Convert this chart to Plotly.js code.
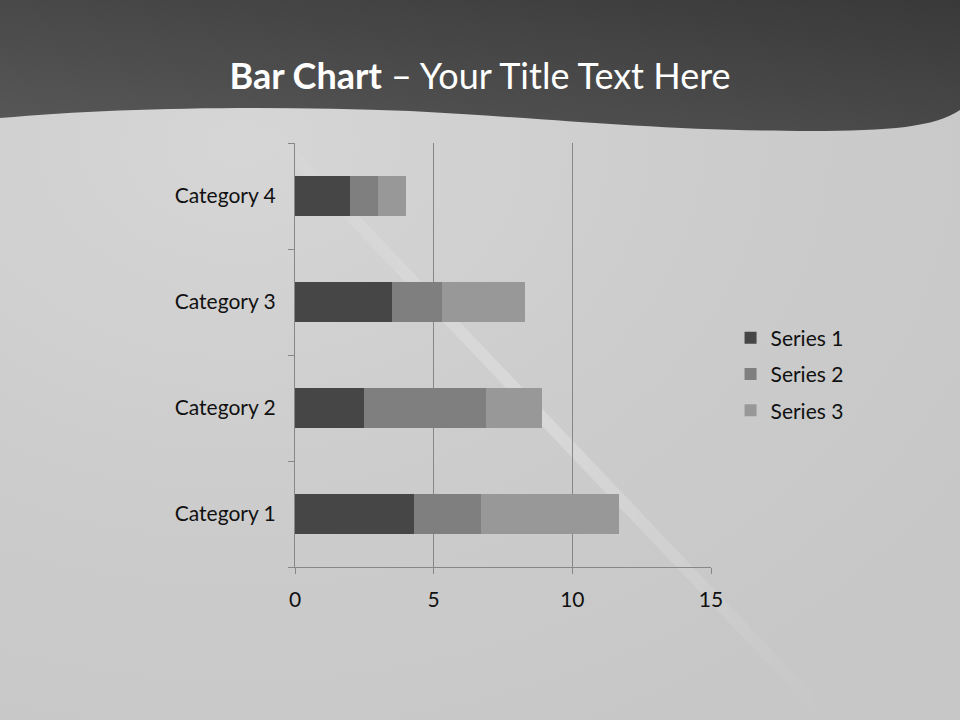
<!DOCTYPE html>
<html>
<head>
<meta charset="utf-8">
<script src="https://cdn.plot.ly/plotly-3.0.1.min.js"></script>
<style>
  html, body { margin: 0; padding: 0; background: #cbcbcb; }
  #wrap { position: relative; width: 960px; height: 720px; overflow: hidden; }
  #bg { position: absolute; left: 0; top: 0; }
  #chart { position: absolute; left: 0; top: 0; width: 960px; height: 720px; }
</style>
</head>
<body>
<div id="wrap">
  <svg id="bg" width="960" height="720" viewBox="0 0 960 720">
    <defs>
      <radialGradient id="bodyGrad" cx="0.25" cy="0.2" r="0.9">
        <stop offset="0" stop-color="#d6d6d6"/>
        <stop offset="0.5" stop-color="#cdcdcd"/>
        <stop offset="1" stop-color="#c7c7c7"/>
      </radialGradient>
      <linearGradient id="headGrad" x1="0" y1="1" x2="1" y2="0">
        <stop offset="0" stop-color="#585858"/>
        <stop offset="1" stop-color="#393939"/>
      </linearGradient>
      <linearGradient id="streak" x1="0" y1="0" x2="1" y2="0">
        <stop offset="0" stop-color="#ffffff" stop-opacity="0"/>
        <stop offset="0.5" stop-color="#ffffff" stop-opacity="0.5"/>
        <stop offset="1" stop-color="#ffffff" stop-opacity="0"/>
      </linearGradient>
    </defs>
    <rect x="0" y="0" width="960" height="720" fill="url(#bodyGrad)"/>
    <line x1="250" y1="110" x2="830" y2="720" stroke="url(#streak)" stroke-width="12" opacity="0.5"/>
    <path d="M0,0 L960,0 L960,110 C935,127 890,131 810,131 C660,131 560,119 410,111 C260,105 110,108 0,118 Z" fill="url(#headGrad)"/>
  </svg>
  <div id="chart"></div>
</div>
<script>
const categories = ["Category 1", "Category 2", "Category 3", "Category 4"];
const seriesNames = ["Series 1", "Series 2", "Series 3"];
const series1 = [4.3, 2.5, 3.5, 2.0];
const series2 = [2.4, 4.4, 1.8, 1.0];
const series3 = [5.0, 2.0, 3.0, 1.0];
const xTickVals = [0, 5, 10, 15];

const colors = ["#464646", "#7f7f7f", "#989898"];
const values = [series1, series2, series3];

const FONT = "Lato, 'Open Sans', sans-serif";

const traces = values.map((v, i) => ({
  type: "bar",
  orientation: "h",
  name: seriesNames[i],
  legendgroup: "g" + i,
  y: categories,
  x: v,
  marker: { color: colors[i], line: { width: 0 } },
  hoverinfo: "x+name"
}));

const layout = {
  width: 960,
  height: 720,
  paper_bgcolor: "rgba(0,0,0,0)",
  plot_bgcolor: "rgba(0,0,0,0)",
  margin: { l: 295, r: 249, t: 143, b: 153 },
  barmode: "stack",
  bargap: 0.62,
  font: { family: FONT, color: "#111111", size: 21 },
  title: {
    text: "<b>Bar Chart</b> – Your Title Text Here",
    font: { family: FONT, size: 36, color: "#ffffff" },
    x: 0.5, xanchor: "center",
    y: 1 - 76 / 720, yanchor: "middle"
  },
  xaxis: {
    range: [0, 15],
    tickvals: xTickVals,
    showgrid: true,
    gridcolor: "#878787",
    gridwidth: 1,
    zeroline: false,
    showline: true,
    linecolor: "#878787",
    linewidth: 1,
    ticks: "outside",
    ticklen: 6,
    tickcolor: "#878787",
    ticklabelstandoff: 8,
    tickfont: { family: FONT, size: 21, color: "#111111" },
    fixedrange: true
  },
  yaxis: {
    type: "category",
    categoryorder: "array",
    categoryarray: categories,
    showgrid: false,
    zeroline: false,
    showline: true,
    linecolor: "#878787",
    linewidth: 1,
    ticks: "outside",
    tickson: "boundaries",
    ticklen: 6,
    tickcolor: "#878787",
    ticklabelstandoff: 14,
    tickfont: { family: FONT, size: 21, color: "#111111" },
    fixedrange: true
  },
  legend: {
    x: 1.047, xanchor: "left",
    y: 0.455, yanchor: "middle",
    traceorder: "grouped",
    bgcolor: "rgba(0,0,0,0)",
    font: { family: FONT, size: 21, color: "#111111" },
    tracegroupgap: 6,
    itemwidth: 30
  },
  showlegend: true
};

Plotly.newPlot("chart", traces, layout, { displayModeBar: false, staticPlot: true });
</script>
</body>
</html>
